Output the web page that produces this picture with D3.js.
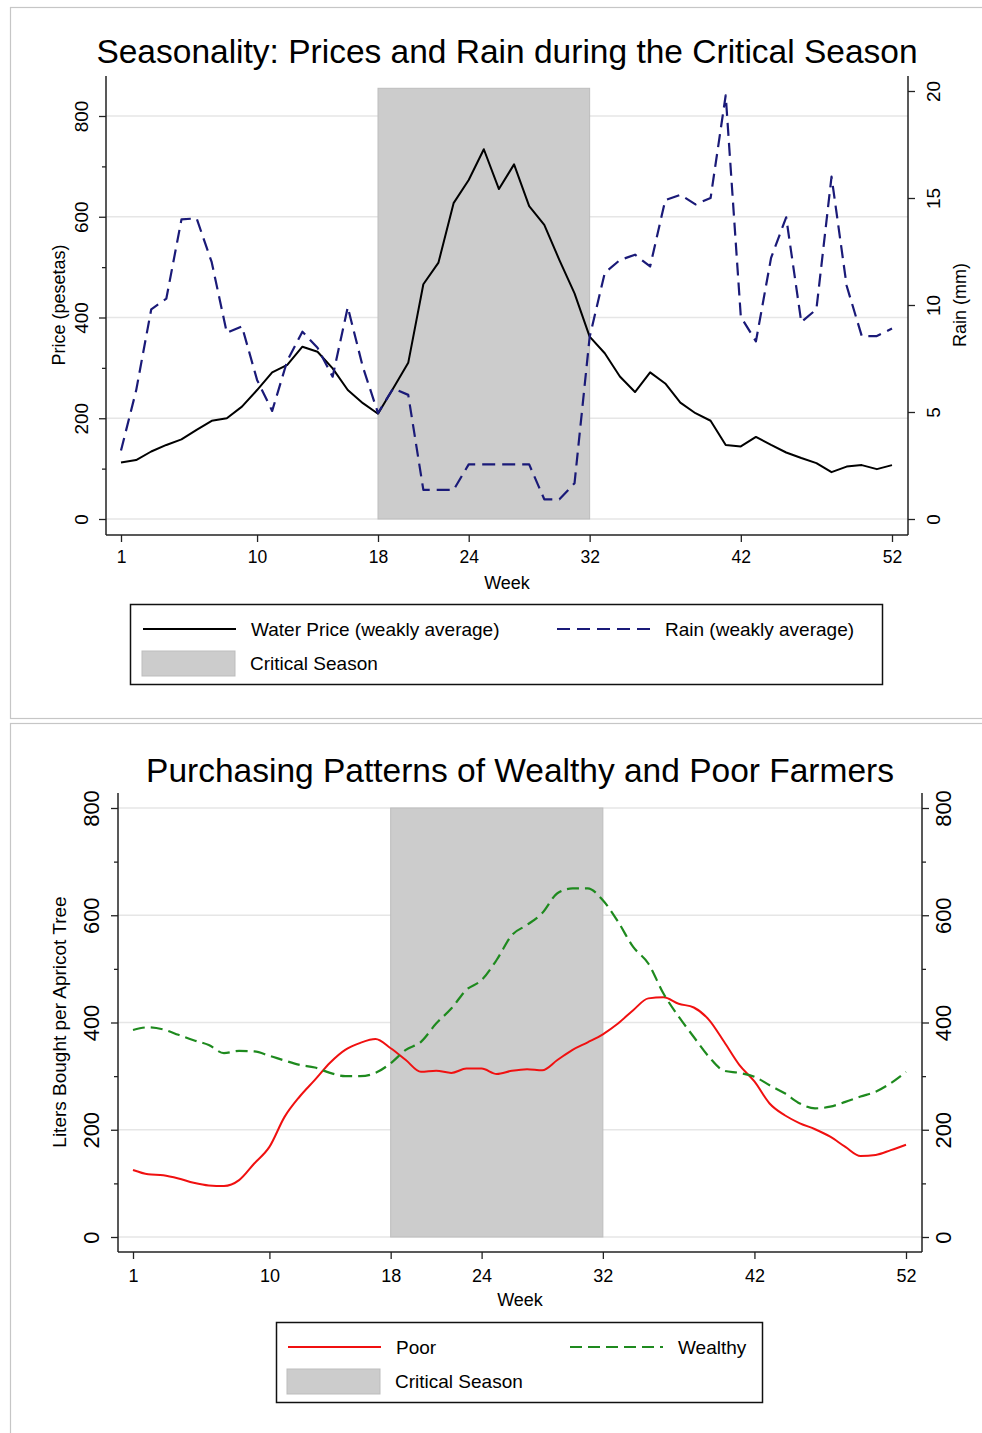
<!DOCTYPE html>
<html>
<head>
<meta charset="utf-8">
<script src="https://cdn.jsdelivr.net/npm/d3@7"></script>
<style>
  body { margin: 0; background: #fff; }
  svg { display: block; }
  text { font-family: "Liberation Sans", Arial, Helvetica, sans-serif; fill: #000; }
</style>
</head>
<body>
<svg id="fig" width="982" height="1433"></svg>
<script>
// ---- data ----
const weeks = [1,2,3,4,5,6,7,8,9,10,11,12,13,14,15,16,17,18,19,20,21,22,23,24,25,26,
               27,28,29,30,31,32,33,34,35,36,37,38,39,40,41,42,43,44,45,46,47,48,49,50,51,52];
const weekTicks = [1, 10, 18, 24, 32, 42, 52];
const criticalSeason = [18, 32];

// weekly average water price (pesetas)
const waterPrice = [112,117,134,147,158,177,195,200,223,256,291,306,342,332,299,256,230,209,
                    259,310,466,509,627,673,734,655,704,621,584,514,448,362,329,283,252,291,
                    269,231,210,195,147,144,163,147,132,121,111,93,104,107,99,107];
// weekly average rain (mm)
const rain = [3.2,6.0,9.8,10.3,14.0,14.05,12.0,8.7,9.0,6.5,5.05,7.4,8.75,8.0,6.65,9.9,7.1,4.95,
              6.1,5.8,1.36,1.36,1.36,2.55,2.55,2.55,2.55,2.55,0.92,0.92,1.67,8.5,11.5,12.1,12.35,
              11.8,14.9,15.15,14.7,15.0,19.8,9.45,8.3,12.2,14.1,9.2,9.8,16.0,10.9,8.55,8.55,8.9];

// liters bought per apricot tree
const poor = [125,117,115,109,101,96,95,106,137,168,224,262,293,325,349,362,369,352,
              330,308,310,306,314,314,304,310,313,311,330,349,363,378,398,423,445,447,
              435,428,405,364,321,290,249,227,212,201,187,168,151,153,162,172];
const wealthy = [386,391,387,377,367,358,343,347,346,338,329,321,316,306,300,300,306,324,
                 349,364,398,426,461,479,517,563,582,604,641,650,650,628,588,541,510,454,
                 411,373,336,310,306,299,283,268,249,240,243,252,262,271,287,308];

const priceTicks = [0, 200, 400, 600, 800];
const priceMinor = [100, 300, 500, 700];
const rainTicks = [0, 5, 10, 15, 20];
const litersTicks = [0, 200, 400, 600, 800];
const litersMinor = [100, 300, 500, 700];

const svg = d3.select("#fig");

const C = {
  grid: "#e6e6e6",
  shade: "#cccccc",
  shadeEdge: "#bdbdbd",
  frame: "#c6c6c6",
  navy: "#1a1a78",
  red: "#f01010",
  green: "#1e8a1e"
};

// panel frames
svg.append("rect").attr("x", 10.5).attr("y", 7.5).attr("width", 990).attr("height", 711)
   .attr("fill", "none").attr("stroke", C.frame).attr("stroke-width", 1.2);
svg.append("rect").attr("x", 10.5).attr("y", 723.5).attr("width", 990).attr("height", 720)
   .attr("fill", "none").attr("stroke", C.frame).attr("stroke-width", 1.2);

// rotate y tick labels so they read bottom-to-top
function styleYLabels(g, side, dist, size) {
  g.selectAll(".tick text")
    .attr("transform", "rotate(-90)")
    .attr("x", 0)
    .attr("y", side === "left" ? -dist : dist)
    .attr("dy", 0)
    .attr("text-anchor", "middle")
    .style("font-size", size + "px");
}

function drawPanel(p) {
  const g = svg.append("g");
  const x = d3.scaleLinear().domain([1, 52]).range([p.x1, p.x52]);
  const yL = d3.scaleLinear().domain([0, 800]).range([p.y0, p.y800]);

  // gridlines
  g.append("g").selectAll("line").data(p.leftTicks).join("line")
    .attr("x1", p.axL).attr("x2", p.axR)
    .attr("y1", d => yL(d)).attr("y2", d => yL(d))
    .attr("stroke", C.grid).attr("stroke-width", 1.6);

  // critical season band
  g.append("rect")
    .attr("x", x(criticalSeason[0])).attr("width", x(criticalSeason[1]) - x(criticalSeason[0]))
    .attr("y", yL(p.shadeTop)).attr("height", yL(0) - yL(p.shadeTop))
    .attr("fill", C.shade).attr("stroke", C.shadeEdge).attr("stroke-width", 1);

  // series
  p.series.forEach(s => {
    const ys = s.scale || yL;
    const line = d3.line().x((d, i) => x(weeks[i])).y(d => ys(d)).curve(s.curve || d3.curveLinear);
    g.append("path").datum(s.values)
      .attr("d", line).attr("fill", "none")
      .attr("stroke", s.color).attr("stroke-width", s.width)
      .attr("stroke-dasharray", s.dash || null)
      .attr("stroke-linejoin", "round");
  });

  // axis lines
  g.append("line").attr("x1", p.axL).attr("x2", p.axL).attr("y1", p.axTop).attr("y2", p.axBottom)
    .attr("stroke", "#222").attr("stroke-width", 1.5);
  g.append("line").attr("x1", p.axR).attr("x2", p.axR).attr("y1", p.axTop).attr("y2", p.axBottom)
    .attr("stroke", "#222").attr("stroke-width", 1.5);
  g.append("line").attr("x1", p.axL).attr("x2", p.axR).attr("y1", p.axBottom).attr("y2", p.axBottom)
    .attr("stroke", "#222").attr("stroke-width", 1.5);

  // x axis
  const gx = g.append("g").attr("transform", `translate(0,${p.axBottom})`)
    .call(d3.axisBottom(x).tickValues(weekTicks).tickFormat(d3.format("d")).tickSize(7).tickPadding(p.xTickPad));
  gx.select(".domain").remove();
  gx.selectAll(".tick line").attr("stroke", "#222").attr("stroke-width", 1.3);
  gx.selectAll(".tick text").style("font-size", p.xTickSize + "px").attr("dy", "0.71em");

  // left axis
  const gl = g.append("g").attr("transform", `translate(${p.axL},0)`)
    .call(d3.axisLeft(yL).tickValues(p.leftTicks).tickSize(7));
  gl.select(".domain").remove();
  gl.selectAll(".tick line").attr("stroke", "#222").attr("stroke-width", 1.3);
  styleYLabels(gl, "left", p.leftLabelDist, p.yTickSize);
  const glm = g.append("g").attr("transform", `translate(${p.axL},0)`)
    .call(d3.axisLeft(yL).tickValues(p.leftMinor).tickSize(4).tickFormat(""));
  glm.select(".domain").remove();
  glm.selectAll(".tick line").attr("stroke", "#222").attr("stroke-width", 1.3);

  // right axis
  const yR = p.rightScale || yL;
  const gr = g.append("g").attr("transform", `translate(${p.axR},0)`)
    .call(d3.axisRight(yR).tickValues(p.rightTicks).tickSize(7));
  gr.select(".domain").remove();
  gr.selectAll(".tick line").attr("stroke", "#222").attr("stroke-width", 1.3);
  styleYLabels(gr, "right", p.rightLabelDist, p.yTickSize);
  if (p.rightMinor) {
    const grm = g.append("g").attr("transform", `translate(${p.axR},0)`)
      .call(d3.axisRight(yR).tickValues(p.rightMinor).tickSize(4).tickFormat(""));
    grm.select(".domain").remove();
    grm.selectAll(".tick line").attr("stroke", "#222").attr("stroke-width", 1.3);
  }

  // title and axis titles
  g.append("text").attr("x", p.titleX).attr("y", p.titleY).attr("text-anchor", "middle")
    .style("font-size", p.titleSize + "px").text(p.title);
  g.append("text").attr("x", (p.axL + p.axR) / 2).attr("y", p.weekY).attr("text-anchor", "middle")
    .style("font-size", "18px").text("Week");
  g.append("text").attr("transform", `translate(${p.leftTitleX},${p.yTitleCenter}) rotate(-90)`)
    .attr("text-anchor", "middle").style("font-size", p.yTitleSize + "px").text(p.leftTitle);
  if (p.rightTitle) {
    g.append("text").attr("transform", `translate(${p.rightTitleX},${p.yTitleCenter}) rotate(-90)`)
      .attr("text-anchor", "middle").style("font-size", p.yTitleSize + "px").text(p.rightTitle);
  }

  // legend
  const L = p.legend;
  const lg = g.append("g");
  lg.append("rect").attr("x", L.x).attr("y", L.y).attr("width", L.w).attr("height", L.h)
    .attr("fill", "#fff").attr("stroke", "#111").attr("stroke-width", 1.5);
  L.items.forEach(it => {
    if (it.kind === "line") {
      lg.append("line").attr("x1", it.x).attr("x2", it.x + 93).attr("y1", it.y).attr("y2", it.y)
        .attr("stroke", it.color).attr("stroke-width", it.width).attr("stroke-dasharray", it.dash || null);
    } else {
      lg.append("rect").attr("x", it.x).attr("y", it.y - 12).attr("width", 93).attr("height", 25)
        .attr("fill", C.shade).attr("stroke", C.shadeEdge).attr("stroke-width", 1);
    }
    lg.append("text").attr("x", it.x + 108).attr("y", it.y + 7)
      .style("font-size", L.fontSize + "px").text(it.label);
  });
}

// top panel: price and rain
const yRainTop = d3.scaleLinear().domain([0, 20]).range([519, 91]);
drawPanel({
  x1: 121, x52: 892, y0: 519, y800: 116,
  axL: 106, axR: 908, axTop: 76, axBottom: 535,
  shadeTop: 855,
  leftTicks: priceTicks, leftMinor: priceMinor,
  rightTicks: rainTicks, rightScale: yRainTop,
  leftLabelDist: 18, rightLabelDist: 32,
  xTickSize: 17.5, xTickPad: 9, yTickSize: 19,
  title: "Seasonality: Prices and Rain during the Critical Season",
  titleX: 507, titleY: 63, titleSize: 33.5,
  weekY: 589,
  leftTitle: "Price (pesetas)", leftTitleX: 65,
  rightTitle: "Rain (mm)", rightTitleX: 966,
  yTitleCenter: 305, yTitleSize: 18,
  series: [
    { values: waterPrice, color: "#000", width: 2 },
    { values: rain, scale: yRainTop, color: C.navy, width: 2.2, dash: "13,7" }
  ],
  legend: {
    x: 130.5, y: 604.5, w: 752, h: 80, fontSize: 19,
    items: [
      { kind: "line", x: 143, y: 629, color: "#000", width: 2, label: "Water Price (weakly average)" },
      { kind: "line", x: 557, y: 629, color: C.navy, width: 2.2, dash: "13,7", label: "Rain (weakly average)" },
      { kind: "box", x: 142, y: 663, label: "Critical Season" }
    ]
  }
});

// bottom panel: purchasing patterns
drawPanel({
  x1: 133, x52: 906, y0: 1237, y800: 808,
  axL: 118, axR: 922, axTop: 793, axBottom: 1252,
  shadeTop: 800,
  leftTicks: litersTicks, leftMinor: litersMinor,
  rightTicks: litersTicks, rightMinor: litersMinor,
  leftLabelDist: 19, rightLabelDist: 29,
  xTickSize: 18, xTickPad: 10, yTickSize: 22,
  title: "Purchasing Patterns of Wealthy and Poor Farmers",
  titleX: 520, titleY: 782, titleSize: 33.5,
  weekY: 1306,
  leftTitle: "Liters Bought per Apricot Tree", leftTitleX: 66,
  yTitleCenter: 1022, yTitleSize: 19,
  series: [
    { values: poor, color: C.red, width: 2, curve: d3.curveMonotoneX },
    { values: wealthy, color: C.green, width: 2.2, dash: "12,6", curve: d3.curveMonotoneX }
  ],
  legend: {
    x: 276.5, y: 1322.5, w: 486, h: 80, fontSize: 19,
    items: [
      { kind: "line", x: 288, y: 1347, color: C.red, width: 2, label: "Poor" },
      { kind: "line", x: 570, y: 1347, color: C.green, width: 2.2, dash: "12,6", label: "Wealthy" },
      { kind: "box", x: 287, y: 1381, label: "Critical Season" }
    ]
  }
});
</script>
</body>
</html>
